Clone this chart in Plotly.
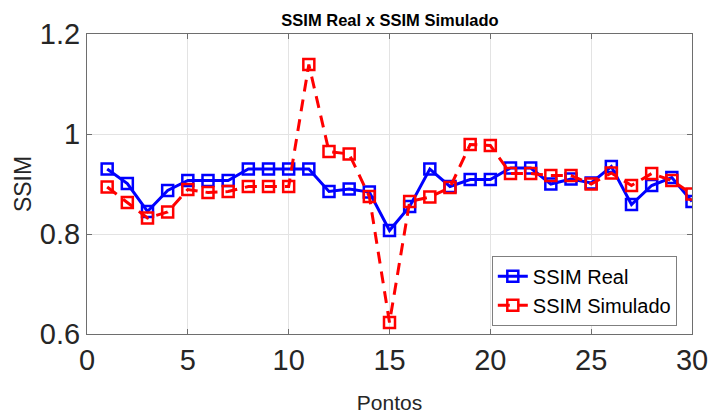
import plotly.graph_objects as go

pontos = list(range(1, 31))
ssim_real = [0.930, 0.901, 0.845, 0.887, 0.907, 0.907, 0.907, 0.930, 0.930, 0.930,
             0.930, 0.885, 0.890, 0.884, 0.807, 0.855, 0.930, 0.895, 0.909, 0.909,
             0.932, 0.932, 0.900, 0.910, 0.902, 0.935, 0.859, 0.897, 0.913, 0.865]
ssim_sim = [0.894, 0.863, 0.832, 0.844, 0.889, 0.883, 0.885, 0.895, 0.895, 0.895,
            1.139, 0.965, 0.960, 0.875, 0.623, 0.865, 0.874, 0.893, 0.979, 0.977,
            0.921, 0.921, 0.917, 0.917, 0.900, 0.922, 0.897, 0.921, 0.907, 0.880]
x_ticks = [0, 5, 10, 15, 20, 25, 30]
y_ticks = [0.6, 0.8, 1.0, 1.2]
y_ticktext = ["0.6", "0.8", "1", "1.2"]

FONT = "Liberation Sans, Arial, sans-serif"

fig = go.Figure()
fig.add_trace(go.Scatter(
    x=pontos, y=ssim_real, name="SSIM Real", mode="lines+markers",
    line=dict(color="#0000ff", width=3),
    marker=dict(symbol="square-open", size=11, color="#0000ff",
                line=dict(width=2.5, color="#0000ff")),
))
fig.add_trace(go.Scatter(
    x=pontos, y=ssim_sim, name="SSIM Simulado", mode="lines+markers",
    line=dict(color="#ff0000", width=3, dash="12px,8px"),
    marker=dict(symbol="square-open", size=11, color="#ff0000",
                line=dict(width=2.5, color="#ff0000")),
))

axis_common = dict(
    showgrid=True, gridcolor="#e3e3e3", gridwidth=1,
    showline=True, linecolor="#6e6e6e", linewidth=1, mirror="ticks",
    ticks="inside", ticklen=5, tickcolor="#6e6e6e",
    tickfont=dict(family=FONT, size=29, color="#262626"),
    zeroline=False, automargin=False,
)

fig.update_layout(
    width=722, height=414,
    margin=dict(l=87, r=30, t=34, b=80),
    paper_bgcolor="white", plot_bgcolor="white",
    title=dict(text="<b>SSIM Real x SSIM Simulado</b>", x=390 / 722, xanchor="center",
               y=1 - 20 / 414, yanchor="middle", yref="container",
               font=dict(family=FONT, size=16.5, color="#000000")),
    xaxis=dict(range=[0, 30], tickvals=x_ticks,
               title=dict(text="Pontos", standoff=22,
                          font=dict(family=FONT, size=21, color="#262626")),
               **axis_common),
    yaxis=dict(range=[0.6, 1.2], tickvals=y_ticks, ticktext=y_ticktext,
               title=dict(text="SSIM", standoff=1,
                          font=dict(family=FONT, size=23, color="#262626")),
               **axis_common),
    legend=dict(x=0.822, xanchor="center", y=0.144, yanchor="middle",
                bgcolor="white", bordercolor="#7f7f7f", borderwidth=1,
                font=dict(family=FONT, size=20, color="#000000"),
                tracegroupgap=0, itemwidth=30, entrywidth=0),
    showlegend=True,
)

fig.write_html("out.html", config={"displayModeBar": False},
               post_script="document.body.style.margin='0';document.body.style.overflow='hidden';")
